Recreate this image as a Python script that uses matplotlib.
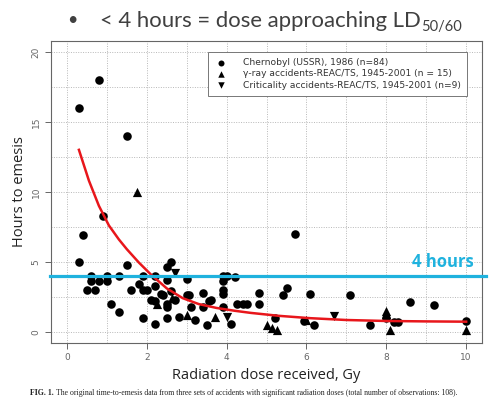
import matplotlib
matplotlib.use("Agg")
import matplotlib.pyplot as plt

# ---- data ----
chern_x = [0.3, 0.8, 1.5, 0.9, 0.4, 0.3, 5.7,
           1.5, 0.6, 1.0, 1.3, 1.9, 2.2,
           0.6, 0.8, 1.0, 0.5, 0.7,
           1.6, 1.8, 1.9, 2.0, 1.1, 1.3, 1.9, 2.1, 2.2, 2.2,
           2.5, 2.6, 2.5, 2.4, 2.5, 2.5, 2.5, 2.6, 2.8,
           3.0, 3.0, 3.1, 3.2, 3.4, 3.4, 3.5, 3.6, 3.55,
           3.9, 3.9, 3.9, 3.9, 3.9, 4.0, 4.2, 4.1,
           4.25, 4.4, 4.5, 4.8, 4.8, 5.2, 5.4, 5.5, 5.95, 6.1, 6.2,
           7.1, 7.6, 8.0, 8.2, 8.3, 8.6, 9.2, 10.0,
           2.2, 2.35, 2.7, 3.05]
chern_y = [16.0, 18.0, 14.0, 8.3, 6.9, 5.0, 7.0,
           4.8, 4.0, 4.0, 4.0, 4.0, 4.0,
           3.6, 3.6, 3.6, 3.0, 3.0,
           3.0, 3.4, 3.0, 3.0, 2.0, 1.4, 1.0, 2.3, 0.55, 3.3,
           4.6, 5.0, 3.7, 2.6, 2.0, 1.75, 1.0, 2.9, 1.05,
           3.75, 2.6, 1.8, 0.85, 2.75, 1.8, 0.5, 2.3, 2.2,
           4.0, 3.6, 3.0, 2.7, 1.8, 4.0, 3.9, 0.55,
           2.0, 2.0, 2.0, 2.8, 2.0, 0.95, 2.6, 3.1, 0.75, 2.7, 0.5,
           2.6, 0.5, 1.0, 0.72, 0.72, 2.1, 1.9, 0.8,
           2.2, 2.7, 2.3, 2.65]

gamma_x = [1.75, 2.25, 2.62, 3.0, 3.7, 5.0, 5.13, 5.26, 6.0, 8.0, 8.0, 8.1, 10.0]
gamma_y = [10.0, 2.0, 2.4, 1.2, 1.05, 0.45, 0.25, 0.1, 0.85, 1.5, 1.25, 0.15, 0.15]

crit_x = [2.7, 4.02, 6.7]
crit_y = [4.2, 1.05, 1.1]

fit_x = [0.3, 0.55, 0.8, 1.05, 1.3, 1.5, 1.8, 2.1, 2.5, 2.9, 3.3, 3.75, 4.2, 4.6,
         5.3, 6.1, 7.0, 8.0, 9.0, 10.0]
fit_y = [13.0, 10.8, 9.0, 7.6, 6.6, 5.9, 4.95, 4.1, 3.1, 2.4, 1.98, 1.7, 1.5, 1.35,
         1.14, 0.97, 0.84, 0.77, 0.74, 0.72]

threshold = 4
x_ticks = [0, 2, 4, 6, 8, 10]
y_ticks = [0, 5, 10, 15, 20]

labels = ["Chernobyl (USSR), 1986 (n=84)",
          "\u03b3-ray accidents-REAC/TS, 1945-2001 (n = 15)",
          "Criticality accidents-REAC/TS, 1945-2001 (n=9)"]

# ---- figure ----
fig = plt.figure(figsize=(4.95, 4.03), dpi=100)
ax = fig.add_axes([0.103, 0.149, 0.871, 0.750])

ax.set_xlim(-0.4, 10.4)
ax.set_ylim(-0.8, 20.8)

for gx in range(0, 11):
    ax.axvline(gx, color="#b8b8b8", lw=0.7, ls=(0, (1, 1.5)), zorder=0)
for gy in [0, 2.5, 5, 7.5, 10, 12.5, 15, 17.5, 20]:
    ax.axhline(gy, color="#b8b8b8", lw=0.7, ls=(0, (1, 1.5)), zorder=0)

h1 = ax.scatter(chern_x, chern_y, s=38, marker="o", color="black", zorder=3, linewidths=0)
h2 = ax.scatter(gamma_x, gamma_y, s=44, marker="^", color="black", zorder=3, linewidths=0)
h3 = ax.scatter(crit_x, crit_y, s=44, marker="v", color="black", zorder=3, linewidths=0)

ax.plot(fit_x, fit_y, color="#e8161b", lw=1.8, zorder=4, solid_joinstyle="round")

ax.axhline(threshold, xmin=-0.003, xmax=1.01, color="#1fb2de", lw=2.3, zorder=5,
           clip_on=False)
ax.text(10.2, 5.0, "4 hours", color="#1fb2de", fontsize=12,
        fontweight="bold", family="Open Sans", ha="right", va="center", zorder=6)

ax.set_xticks(x_ticks)
ax.set_yticks(y_ticks)
ax.tick_params(axis="both", colors="#666666", labelcolor="#666666", labelsize=6.5,
               length=4, width=0.7, direction="out")
for lab in ax.get_yticklabels():
    lab.set_rotation(90)
    lab.set_va("center")
for sp in ax.spines.values():
    sp.set_color("#666666")
    sp.set_linewidth(0.8)

ax.set_xlabel("Radiation dose received, Gy", fontsize=10.5, color="#222222",
              family="Open Sans", labelpad=4)
ax.set_ylabel("Hours to emesis", fontsize=10.5, color="#222222",
              family="Open Sans", labelpad=3)

leg = ax.legend([h1, h2, h3], labels, loc="upper right",
                bbox_to_anchor=(0.9645, 0.9636), fontsize=6.6, frameon=True,
                fancybox=False, edgecolor="#777777", framealpha=1,
                markerscale=0.7, handletextpad=1.6, borderpad=0.7,
                labelspacing=0.25, handlelength=1.5, borderaxespad=0)
leg.get_frame().set_linewidth(0.7)
for t in leg.get_texts():
    t.set_color("#333333")

# title with subscript
renderer = fig.canvas.get_renderer()
fig.text(0.147, 0.951, "\u2022", fontsize=13, color="#404040", family="Lato",
         ha="center", va="center")
t_main = fig.text(0.202, 0.934, "< 4 hours = dose approaching LD", fontsize=15.9,
                  color="#404040", family="Lato", ha="left", va="baseline")
bb = t_main.get_window_extent(renderer)
fig.text(bb.x1 / fig.bbox.width, 0.924, "50/60", fontsize=10.5,
         color="#404040", family="Lato", ha="left", va="baseline")

# caption
t_fig = fig.text(0.06, 0.02, "FIG. 1.", fontsize=5.6, fontweight="bold",
                 family="Liberation Serif", color="#222222", ha="left", va="baseline")
bb2 = t_fig.get_window_extent(renderer)
fig.text(bb2.x1 / fig.bbox.width + 0.006, 0.02,
         "The original time-to-emesis data from three sets of accidents with significant "
         "radiation doses (total number of observations: 108).",
         fontsize=5.6, family="Liberation Serif", color="#222222", ha="left",
         va="baseline")

fig.savefig("out.png", dpi=100)
